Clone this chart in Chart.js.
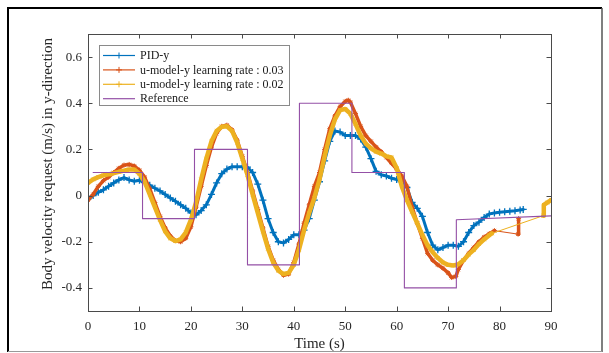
<!DOCTYPE html>
<html>
<head>
<meta charset="utf-8">
<script src="https://cdn.jsdelivr.net/npm/chart.js@4.4.1/dist/chart.umd.min.js"></script>
<style>
html,body{margin:0;padding:0;background:#fff;}
#c{display:block;}
</style>
</head>
<body>
<canvas id="c" width="609" height="353"></canvas>
<script>
// ---------- data ----------
const seriesLabels = ['PID-y', 'u-model-y learning rate : 0.03', 'u-model-y learning rate : 0.02', 'Reference'];
const xTitle = 'Time (s)';
const yTitle = 'Body velocity request (m/s) in y-direction';

const pidT = [0,1,2,3,4,5,6,7,8,9,10,11,12,13,14,15,16,17,18,19,20,21,22,23,24,25,26,27,28,29,30,31,32,33,34,35,36,37,38,39,40,41,42,43,44,45,46,47,48,49,50,51,52,53,54,55,56,57,58,59,60,61,62,63,64,65,66,67,68,69,70,71,72,73,74,75,76,77,78,79,80,81,82,83,84,84.6];
const pidV = [-0.015,0.0,0.014,0.025,0.04,0.055,0.068,0.078,0.068,0.062,0.066,0.056,0.045,0.032,0.02,0.005,-0.01,-0.025,-0.04,-0.055,-0.075,-0.083,-0.065,-0.04,0.005,0.055,0.095,0.115,0.125,0.125,0.125,0.123,0.1,0.05,-0.02,-0.1,-0.16,-0.2,-0.205,-0.19,-0.17,-0.17,-0.15,-0.1,-0.02,0.06,0.15,0.235,0.28,0.275,0.26,0.26,0.26,0.245,0.21,0.16,0.105,0.09,0.085,0.075,0.07,0.06,0.035,-0.03,-0.055,-0.09,-0.16,-0.215,-0.235,-0.225,-0.215,-0.215,-0.22,-0.2,-0.16,-0.13,-0.115,-0.095,-0.08,-0.075,-0.072,-0.07,-0.068,-0.066,-0.062,-0.06];

const lr03T = [0,1,2,3,4,5,6,7,8,9,10,11,12,13,14,15,16,17,18,19,20,21,22,23,24,25,26,27,28,29,30,31,32,33,34,35,36,37,38,39,40,41,42,43,44,45,46,47,48,49,50,50.6,51,52,53,54,55,56,57,58,59,60,61,62,63,64,65,66,67,68,69,70,70.7,71.5,72,73,74,75,76,77,78,79,83.6,83.7];
const lr03V = [-0.02,0.005,0.04,0.065,0.08,0.1,0.118,0.132,0.135,0.128,0.11,0.08,0.03,-0.03,-0.09,-0.14,-0.175,-0.195,-0.2,-0.185,-0.135,-0.05,0.04,0.13,0.21,0.27,0.3,0.305,0.285,0.24,0.17,0.1,0.02,-0.06,-0.14,-0.22,-0.28,-0.32,-0.345,-0.34,-0.29,-0.21,-0.12,-0.04,0.04,0.1,0.2,0.29,0.345,0.385,0.408,0.413,0.405,0.355,0.3,0.26,0.235,0.21,0.19,0.165,0.14,0.115,0.085,0.04,-0.05,-0.12,-0.185,-0.25,-0.28,-0.3,-0.315,-0.335,-0.355,-0.35,-0.32,-0.28,-0.25,-0.225,-0.2,-0.18,-0.165,-0.152,-0.167,-0.1];

const lr02T = [0,1,2,3,4,5,6,7,8,9,10,11,12,13,14,15,16,17,18,19,20,21,22,23,24,25,26,27,28,29,30,31,32,33,34,35,36,37,38,39,40,41,42,43,44,45,46,47,48,49,50,51,52,53,54,55,56,57,58,59,60,61,62,63,64,65,66,67,68,69,70,71,72,73,74,75,76,77,78,78.5,88.5,88.6,89.3,90];
const lr02V = [0.055,0.07,0.08,0.088,0.092,0.097,0.103,0.108,0.113,0.113,0.095,0.06,0.005,-0.05,-0.105,-0.155,-0.185,-0.197,-0.19,-0.16,-0.105,-0.03,0.07,0.16,0.235,0.28,0.298,0.3,0.28,0.23,0.16,0.09,0.005,-0.075,-0.155,-0.23,-0.29,-0.325,-0.34,-0.335,-0.3,-0.235,-0.15,-0.075,-0.01,0.07,0.17,0.26,0.33,0.37,0.375,0.355,0.31,0.26,0.225,0.205,0.19,0.182,0.17,0.165,0.12,0.04,-0.02,-0.07,-0.12,-0.17,-0.215,-0.245,-0.27,-0.29,-0.3,-0.303,-0.298,-0.28,-0.255,-0.235,-0.21,-0.19,-0.172,-0.164,-0.087,-0.04,-0.03,-0.02];

const refT = [1,10.6,10.6,20.7,20.7,31.0,31.0,41.1,41.1,51.3,51.3,61.5,61.5,71.6,71.6,90];
const refV = [0.1,0.1,-0.1,-0.1,0.2,0.2,-0.3,-0.3,0.4,0.4,0.1,0.1,-0.4,-0.4,-0.105,-0.088];

const xTicks = [0,10,20,30,40,50,60,70,80,90];
const yTicks = [-0.4,-0.2,0,0.2,0.4,0.6];
const yTickLabels = ['-0.4','-0.2','0','0.2','0.4','0.6'];

// ---------- helpers ----------
const pairs = (t, v) => t.map((x, i) => ({x: x, y: v[i]}));
const gapWidth = ctx => (ctx.p1.parsed.x - ctx.p0.parsed.x > 2 ? 1 : undefined);
const SERIF = "'Liberation Serif', 'Times New Roman', serif";

Chart.defaults.font.family = SERIF;
Chart.defaults.color = '#262626';

const frame = {
  id: 'frame',
  beforeDraw(chart) {
    const c = chart.ctx;
    c.save();
    c.fillStyle = '#fff';
    c.fillRect(0, 0, chart.width, chart.height);
    c.strokeStyle = '#000';
    c.lineWidth = 2;
    c.beginPath();
    c.moveTo(8, 352); c.lineTo(8, 8); c.lineTo(602, 8);
    c.stroke();
    c.strokeStyle = '#555';
    c.lineWidth = 1.5;
    c.beginPath();
    c.moveTo(602, 8); c.lineTo(602, 352);
    c.stroke();
    c.strokeStyle = '#999';
    c.lineWidth = 1;
    c.beginPath();
    c.moveTo(8, 351.5); c.lineTo(602, 351.5);
    c.stroke();
    // rotated y-axis title
    c.translate(48, 164);
    c.rotate(-Math.PI / 2);
    c.font = '15px ' + SERIF;
    c.fillStyle = '#262626';
    c.textAlign = 'center';
    c.textBaseline = 'middle';
    c.fillText(yTitle, 0, 0);
    c.restore();
  },
  afterDatasetsDraw(chart) {
    const a = chart.chartArea, c = chart.ctx;
    const xs = chart.scales.x, ys = chart.scales.y;
    c.save();
    c.strokeStyle = '#4a4a4a';
    c.lineWidth = 1;
    c.strokeRect(Math.round(a.left) + 0.5, Math.round(a.top) + 0.5, Math.round(a.right - a.left), Math.round(a.bottom - a.top));
    c.beginPath();
    const L = 4.5;
    xs.ticks.forEach(t => {
      const p = Math.round(xs.getPixelForValue(t.value)) + 0.5;
      c.moveTo(p, a.bottom); c.lineTo(p, a.bottom - L);
      c.moveTo(p, a.top); c.lineTo(p, a.top + L);
    });
    ys.ticks.forEach(t => {
      const p = Math.round(ys.getPixelForValue(t.value)) + 0.5;
      c.moveTo(a.left, p); c.lineTo(a.left + L, p);
      c.moveTo(a.right, p); c.lineTo(a.right - L, p);
    });
    c.stroke();
    c.restore();
  },
  afterDraw(chart) {
    const c = chart.ctx;
    const x0 = 99, y0 = 45, w = 190, h = 60;
    c.save();
    c.fillStyle = '#fff';
    c.fillRect(x0, y0, w, h);
    c.strokeStyle = '#8a8a8a';
    c.lineWidth = 1;
    c.strokeRect(x0 + 0.5, y0 + 0.5, w, h);
    c.font = '12px ' + SERIF;
    c.textBaseline = 'middle';
    c.textAlign = 'left';
    chart.data.datasets.forEach((ds, i) => {
      const y = y0 + 10.5 + i * 14.4;
      c.strokeStyle = ds.borderColor;
      c.lineWidth = 1.2;
      c.beginPath();
      c.moveTo(103, y); c.lineTo(135, y);
      c.stroke();
      if (ds.legendMarker) {
        c.lineWidth = 1;
        c.beginPath();
        c.moveTo(116, y); c.lineTo(122, y);
        c.moveTo(119, y - 3); c.lineTo(119, y + 3);
        c.stroke();
      }
      c.fillStyle = '#1a1a1a';
      c.fillText(ds.label, 140, y + 0.5);
    });
    c.restore();
  }
};

new Chart(document.getElementById('c'), {
  type: 'line',
  data: {
    datasets: [
      {
        label: seriesLabels[0], data: pairs(pidT, pidV),
        borderColor: '#0072BD', backgroundColor: '#0072BD',
        borderWidth: 3, pointStyle: 'cross', pointRadius: 3.5, pointBorderWidth: 1.3,
        segment: {borderWidth: gapWidth}, order: 3, legendMarker: true
      },
      {
        label: seriesLabels[1], data: pairs(lr03T, lr03V),
        borderColor: '#D95319', backgroundColor: '#D95319',
        borderWidth: 3.5, pointStyle: 'star', pointRadius: 2.5, pointBorderWidth: 1,
        segment: {borderWidth: gapWidth}, order: 2, legendMarker: true
      },
      {
        label: seriesLabels[2], data: pairs(lr02T, lr02V),
        borderColor: '#EDB120', backgroundColor: '#EDB120',
        borderWidth: 4.5, pointStyle: 'crossRot', pointRadius: 2.5, pointBorderWidth: 1,
        segment: {borderWidth: gapWidth}, order: 1, legendMarker: true
      },
      {
        label: seriesLabels[3], data: pairs(refT, refV),
        borderColor: '#9450A6', backgroundColor: '#9450A6',
        borderWidth: 1.1, pointRadius: 0, order: 0, legendMarker: false
      }
    ]
  },
  options: {
    responsive: false,
    animation: false,
    devicePixelRatio: 1,
    layout: {padding: {left: 0, right: 58, top: 34, bottom: 0}},
    plugins: {legend: {display: false}, tooltip: {enabled: false}},
    elements: {line: {tension: 0, borderJoinStyle: 'round', borderCapStyle: 'round'}},
    scales: {
      x: {
        type: 'linear', min: 0, max: 90,
        grid: {display: false, drawTicks: false}, border: {display: false},
        afterBuildTicks: s => { s.ticks = xTicks.map(v => ({value: v})); },
        afterFit: s => { s.height = 42; },
        ticks: {font: {size: 13}, padding: 8, maxRotation: 0, callback: v => String(v)},
        title: {display: true, text: xTitle, font: {size: 15}, padding: {top: 0, bottom: 0}}
      },
      y: {
        type: 'linear', min: -0.5, max: 0.7,
        grid: {display: false, drawTicks: false}, border: {display: false},
        afterBuildTicks: s => { s.ticks = yTicks.map(v => ({value: v})); },
        afterFit: s => { s.width = 88; },
        ticks: {font: {size: 13}, padding: 6, callback: v => yTickLabels[yTicks.findIndex(t => Math.abs(t - v) < 1e-9)]},
        title: {display: false}
      }
    }
  },
  plugins: [frame]
});
</script>
</body>
</html>
